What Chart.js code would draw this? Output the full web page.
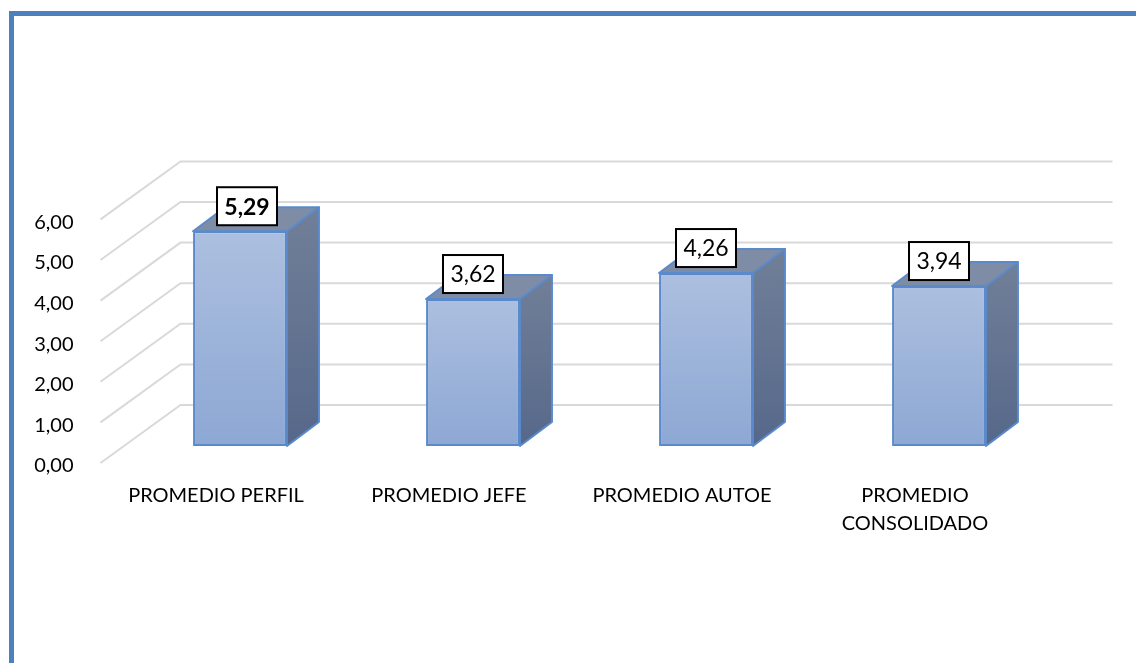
<!DOCTYPE html>
<html>
<head>
<meta charset="utf-8">
<script src="https://cdn.jsdelivr.net/npm/chart.js@4/dist/chart.umd.min.js"></script>
<style>
  html, body { margin: 0; padding: 0; background: #ffffff; overflow: hidden; }
  #wrap { position: relative; width: 1136px; height: 663px; }
  #frame { position: absolute; left: 9px; top: 11px; width: 1200px; height: 700px;
           border-left: 5px solid #4F80BE; border-top: 5px solid #4F80BE; pointer-events: none; }
  canvas { position: absolute; left: 0; top: 0; }
</style>
</head>
<body>
<div id="wrap">
  <canvas id="c" width="1136" height="663"></canvas>
  <div id="frame"></div>
</div>
<script>
// ---- data ----
const categories = ['PROMEDIO PERFIL', 'PROMEDIO JEFE', 'PROMEDIO AUTOE', ['PROMEDIO', 'CONSOLIDADO']];
const values = [5.29, 3.62, 4.26, 3.94];
const yTickMin = 0;
const yTickMax = 6;
const yTickStep = 1;

// ---- 3D geometry (oblique projection offsets) ----
const DEPTH = { dx: 32, dy: -24 };   // bar depth
const BACK = { dx: 57, dy: -41 };    // bar plane -> back wall
const FRONT = { dx: -23, dy: 17 };   // bar plane -> front of floor

const fmt = v => v.toFixed(2).replace('.', ',');
const FONT = 'Lato, "Open Sans", sans-serif';

const threeD = {
  id: 'threeD',
  beforeDatasetsDraw(chart) {
    const ctx = chart.ctx;
    const ys = chart.scales.y;
    const area = chart.chartArea;
    ctx.save();
    ctx.strokeStyle = '#D9D9D9';
    ctx.lineWidth = 2;
    ys.ticks.forEach(t => {
      const py = ys.getPixelForValue(t.value);
      ctx.beginPath();
      ctx.moveTo(area.left + FRONT.dx, py + FRONT.dy);
      ctx.lineTo(area.left + BACK.dx, py + BACK.dy);
      ctx.lineTo(area.right + BACK.dx, py + BACK.dy);
      ctx.stroke();
    });
    // side and top faces
    const meta = chart.getDatasetMeta(0);
    meta.data.forEach(bar => {
      const left = bar.x - bar.width / 2, right = bar.x + bar.width / 2;
      const top = bar.y, base = bar.base;
      const g = ctx.createLinearGradient(0, top + DEPTH.dy, 0, base);
      g.addColorStop(0, '#717F98');
      g.addColorStop(1, '#56688A');
      ctx.beginPath();
      ctx.moveTo(right, top);
      ctx.lineTo(right + DEPTH.dx, top + DEPTH.dy);
      ctx.lineTo(right + DEPTH.dx, base + DEPTH.dy);
      ctx.lineTo(right, base);
      ctx.closePath();
      ctx.fillStyle = g;
      ctx.fill();
      ctx.strokeStyle = '#5A8ACB';
      ctx.lineWidth = 2;
      ctx.lineJoin = 'round';
      ctx.stroke();
      ctx.beginPath();
      ctx.moveTo(left, top);
      ctx.lineTo(left + DEPTH.dx, top + DEPTH.dy);
      ctx.lineTo(right + DEPTH.dx, top + DEPTH.dy);
      ctx.lineTo(right, top);
      ctx.closePath();
      ctx.fillStyle = '#7E8CA6';
      ctx.fill();
      ctx.stroke();
    });
    ctx.restore();
  },
  afterDatasetsDraw(chart) {
    const ctx = chart.ctx;
    const meta = chart.getDatasetMeta(0);
    const maxV = Math.max(...values);
    ctx.save();
    meta.data.forEach((bar, i) => {
      const v = values[i];
      const bold = v === maxV;
      const w = 60, h = 38;
      const cx = bar.x + (bold ? 7 : 0);
      const bottom = bar.y - 6;
      ctx.fillStyle = '#ffffff';
      ctx.fillRect(cx - w / 2, bottom - h, w, h);
      ctx.strokeStyle = '#000000';
      ctx.lineWidth = 2;
      ctx.strokeRect(cx - w / 2, bottom - h, w, h);
      ctx.fillStyle = '#000000';
      ctx.font = (bold ? 'bold ' : '') + '23px ' + FONT;
      ctx.textAlign = 'center';
      ctx.textBaseline = 'middle';
      ctx.fillText(fmt(v), cx, bottom - h / 2 + 1);
    });
    ctx.restore();
  }
};

const ctx = document.getElementById('c').getContext('2d');
new Chart(ctx, {
  type: 'bar',
  data: {
    labels: categories,
    datasets: [{
      data: values,
      backgroundColor: (c) => {
        const chart = c.chart;
        if (!chart.chartArea || !chart.scales.y) return '#9DB3DA';
        const ys = chart.scales.y;
        const top = ys.getPixelForValue(c.raw);
        const base = ys.getPixelForValue(0);
        const g = chart.ctx.createLinearGradient(0, top, 0, base);
        g.addColorStop(0, '#ACBFDF');
        g.addColorStop(1, '#8DA8D4');
        return g;
      },
      borderColor: '#5A8ACB',
      borderWidth: 2,
      borderSkipped: false,
      barPercentage: 0.403,
      categoryPercentage: 1.0
    }]
  },
  options: {
    responsive: false,
    animation: false,
    devicePixelRatio: 1,
    layout: { padding: { top: 202.4, right: 80.5, left: 0, bottom: 0 } },
    plugins: { legend: { display: false }, tooltip: { enabled: false } },
    scales: {
      x: {
        grid: { display: false, drawTicks: false },
        border: { display: false },
        ticks: {
          autoSkip: false, maxRotation: 0, minRotation: 0,
          padding: 36, labelOffset: -24,
          color: '#000000',
          font: { family: FONT, size: 20, lineHeight: 1.4 }
        },
        afterFit: s => { s.height = 217; }
      },
      y: {
        min: yTickMin, max: yTickMax,
        grid: { display: false, drawTicks: false },
        border: { display: false },
        ticks: {
          stepSize: yTickStep, padding: 50, labelOffset: 20,
          color: '#000000',
          font: { family: FONT, size: 20 },
          callback: v => fmt(v)
        },
        afterFit: s => { s.width = 123.5; }
      }
    }
  },
  plugins: [threeD]
});
</script>
</body>
</html>
